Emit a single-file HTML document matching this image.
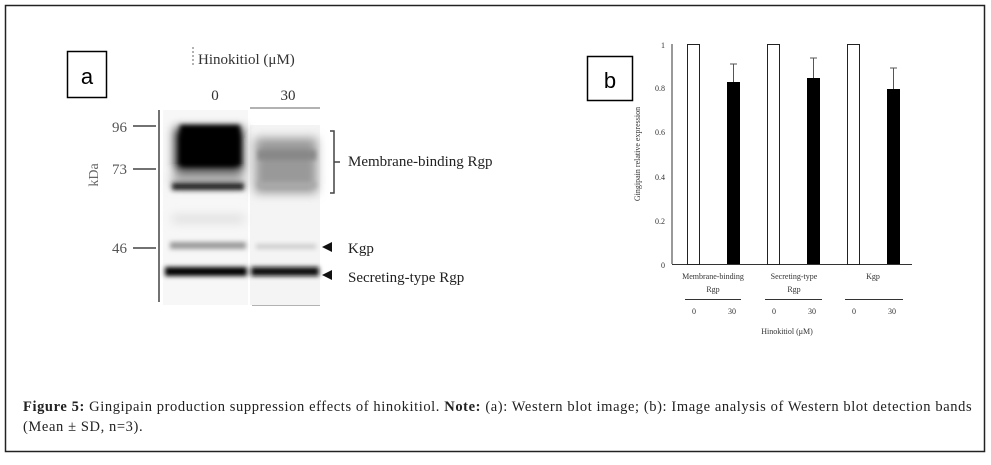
<!DOCTYPE html>
<html><head><meta charset="utf-8"><style>
body{margin:0;background:#fff;width:991px;height:465px;overflow:hidden;font-family:"Liberation Serif",serif}
svg{position:absolute;left:0;top:0}
.cap{position:absolute;left:23px;top:397px;font-size:14.5px;line-height:20px;color:#222;width:965px;letter-spacing:0.6px;white-space:nowrap}
</style></head><body>
<svg width="991" height="465" viewBox="0 0 991 465">
<defs>
<filter id="b2" x="-20%" y="-50%" width="140%" height="200%"><feGaussianBlur stdDeviation="2.5"/></filter>
<filter id="b4" x="-20%" y="-50%" width="140%" height="200%"><feGaussianBlur stdDeviation="5"/></filter>
</defs>
<rect x="5.5" y="5.5" width="979" height="446" fill="none" stroke="#222" stroke-width="1.5"/>
<rect x="67.5" y="51.5" width="39" height="46" fill="#fff" stroke="#000" stroke-width="1.5"/>
<text x="87" y="84" font-family="Liberation Sans,sans-serif" font-size="22" text-anchor="middle">a</text>
<rect x="587.5" y="56.5" width="45" height="44" fill="#fff" stroke="#000" stroke-width="1.5"/>
<text x="610" y="88" font-family="Liberation Sans,sans-serif" font-size="22" text-anchor="middle">b</text>
<g font-size="15" fill="#333">
<text x="198" y="64">Hinokitiol (μM)</text>
<text x="215" y="100" text-anchor="middle">0</text>
<text x="288" y="100" text-anchor="middle">30</text>
<text x="127" y="132" text-anchor="end" fill="#555">96</text>
<text x="127" y="174" text-anchor="end" fill="#555">73</text>
<text x="127" y="253" text-anchor="end" fill="#555">46</text>
<text transform="translate(98,175) rotate(-90)" text-anchor="middle" font-size="14" fill="#666">kDa</text>
<text x="348" y="166" fill="#222">Membrane-binding Rgp</text>
<text x="348" y="253" fill="#222">Kgp</text>
<text x="348" y="282" fill="#222">Secreting-type Rgp</text>
</g>
<g stroke="#444" stroke-width="1.5" fill="none">
<line x1="159" y1="110" x2="159" y2="302"/>
<line x1="133" y1="126" x2="156" y2="126"/>
<line x1="133" y1="169" x2="156" y2="169"/>
<line x1="133" y1="248" x2="156" y2="248"/>
<path d="M330 131 h4 v62 h-4 M334 162 h6"/>
<line x1="250" y1="108" x2="320" y2="108" stroke="#999"/>
<line x1="252" y1="305" x2="320" y2="305" stroke="#999"/>
<path d="M193 47 v20" stroke="#999" stroke-dasharray="2 2"/>
</g>
<path d="M322 247 l10 -5 v10z M322 275 l10 -5 v10z" fill="#111"/>
<rect x="163" y="110" width="85" height="195" fill="#f7f7f7"/>
<rect x="250" y="125" width="70" height="180" fill="#f4f4f4"/>
<g filter="url(#b4)">
<rect x="175" y="128" width="68" height="45" fill="#000"/>
<rect x="255" y="138" width="62" height="55" fill="#999"/>
<rect x="172" y="175" width="72" height="12" fill="#aaa"/>
<rect x="172" y="215" width="72" height="8" fill="#ddd"/>
</g>
<g filter="url(#b2)">
<rect x="180" y="125" width="60" height="40" fill="#000"/>
<rect x="258" y="150" width="58" height="10" fill="#888"/>
<rect x="172" y="183" width="72" height="7" fill="#222"/>
<rect x="258" y="182" width="58" height="6" fill="#aaa"/>
<rect x="170" y="242" width="76" height="7" fill="#999"/>
<rect x="256" y="244" width="60" height="5" fill="#ccc"/>
<rect x="165" y="267" width="82" height="9" fill="#000"/>
<rect x="251" y="267" width="68" height="9" fill="#111"/>
</g>
<g stroke="#333" stroke-width="1" fill="none">
<line x1="672" y1="44" x2="672" y2="264"/>
<line x1="672" y1="264.5" x2="912" y2="264.5"/>
<line x1="685" y1="299.5" x2="741" y2="299.5"/>
<line x1="765" y1="299.5" x2="822" y2="299.5"/>
<line x1="845" y1="299.5" x2="903" y2="299.5"/>
</g>
<g stroke="#222" stroke-width="1">
<rect x="687.5" y="44.5" width="12" height="220" fill="#fff"/>
<rect x="767.5" y="44.5" width="12" height="220" fill="#fff"/>
<rect x="847.5" y="44.5" width="12" height="220" fill="#fff"/>
</g>
<rect x="727" y="82" width="13" height="182" fill="#000"/>
<rect x="807" y="78" width="13" height="186" fill="#000"/>
<rect x="887" y="89" width="13" height="175" fill="#000"/>
<g stroke="#555" stroke-width="1">
<path d="M733.5 82V64M730 64h7M813.5 78V58M810 58h7M893.5 89V68M890 68h7"/>
</g>
<g font-size="8" fill="#333" text-anchor="end">
<text x="665" y="48">1</text><text x="665" y="91">0.8</text><text x="665" y="135">0.6</text>
<text x="665" y="180">0.4</text><text x="665" y="224">0.2</text><text x="665" y="268">0</text>
</g>
<text transform="translate(640,154) rotate(-90)" font-size="8" fill="#333" text-anchor="middle">Gingipain relative expression</text>
<g font-size="8" fill="#333" text-anchor="middle">
<text x="713" y="279">Membrane-binding</text><text x="713" y="292">Rgp</text>
<text x="794" y="279">Secreting-type</text><text x="794" y="292">Rgp</text>
<text x="873" y="279">Kgp</text>
<text x="694" y="314">0</text><text x="732" y="314">30</text>
<text x="774" y="314">0</text><text x="812" y="314">30</text>
<text x="854" y="314">0</text><text x="892" y="314">30</text>
<text x="787" y="334">Hinokitiol (μM)</text>
</g>
</svg>
<div class="cap"><b>Figure 5:</b> Gingipain production suppression effects of hinokitiol. <b>Note:</b> (a): Western blot image; (b): Image analysis of Western blot detection bands<br>(Mean ± SD, n=3).</div>
</body></html>
